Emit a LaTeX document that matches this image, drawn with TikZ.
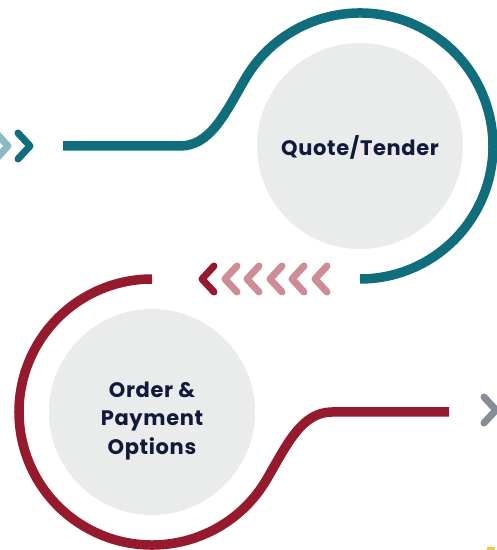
\documentclass[tikz,border=0pt]{standalone}
\usepackage{fontspec}
\setmainfont{Poppins}[LetterSpace=3]
\usepackage{tikz}
\usetikzlibrary{positioning,calc}
\definecolor{stTeal}{HTML}{106E7C}
\definecolor{stTealLt}{HTML}{8CB9C3}
\definecolor{stRed}{HTML}{961A2E}
\definecolor{stPink}{HTML}{CD8C96}
\definecolor{stSlate}{HTML}{878C9B}
\definecolor{stDisc}{HTML}{EAECEC}
\definecolor{stInk}{HTML}{12193A}
\definecolor{stGold}{HTML}{F5C83C}
\tikzset{
  disc/.style={circle, fill=stDisc, minimum size=206pt, inner sep=0pt},
  lbl/.style={align=center, inner sep=0pt, text=stInk, font=\fontsize{21}{28.5}\selectfont\bfseries},
  track/.style={line width=9.5pt, line cap=butt},
  chev/.style={line width=7pt, line cap=round, line join=round},
}

\begin{document}
\begin{tikzpicture}[x=1pt, y=1pt]
  \useasboundingbox (0,0) rectangle (497,550);
  % stages
  \node[disc] (quote) at (360,404) {};
  \node[disc] (order) at (152,138) {};
  \node[lbl] (quotelbl) at ([yshift=-1]quote.center) {Quote/Tender};
  \node[lbl] (orderlbl) at ([yshift=-9]order.center) {Order \&\\Payment\\Options};
  % teal track, top
  \coordinate (qin) at (63,404);
  \draw[track, stTeal] (qin) -- (180,404)
    .. controls (210,404) and (224.8,435.9) .. (244.8,470.5)
    arc[start angle=150, end angle=-90, radius=133];
  % red track, bottom
  \coordinate (oout) at (449,138);
  \draw[track, stRed] (oout) -- (332,138)
    .. controls (302,138) and (287.2,106.1) .. (267.2,71.5)
    arc[start angle=-30, end angle=-270, radius=133];
  % chevrons
  \draw[chev, stTealLt] (-4,417) -- ++(12,-13) -- ++(-12,-13);
  \draw[chev, stTeal] (18,417) -- ++(12,-13) -- ++(-12,-13);
  \draw[chev, stRed] (214,284) -- ++(-12,-13) -- ++(12,-13);
  \draw[chev, stPink] (237,284) -- ++(-12,-13) -- ++(12,-13);
  \draw[chev, stPink] (259,284) -- ++(-12,-13) -- ++(12,-13);
  \draw[chev, stPink] (282,284) -- ++(-12,-13) -- ++(12,-13);
  \draw[chev, stPink] (304,284) -- ++(-12,-13) -- ++(12,-13);
  \draw[chev, stPink] (327,284) -- ++(-12,-13) -- ++(12,-13);
  \draw[chev, stSlate] (484,153) -- ++(12,-13) -- ++(-12,-13);
  \fill[stGold] (487,0) rectangle (495,3);
\end{tikzpicture}
\end{document}
